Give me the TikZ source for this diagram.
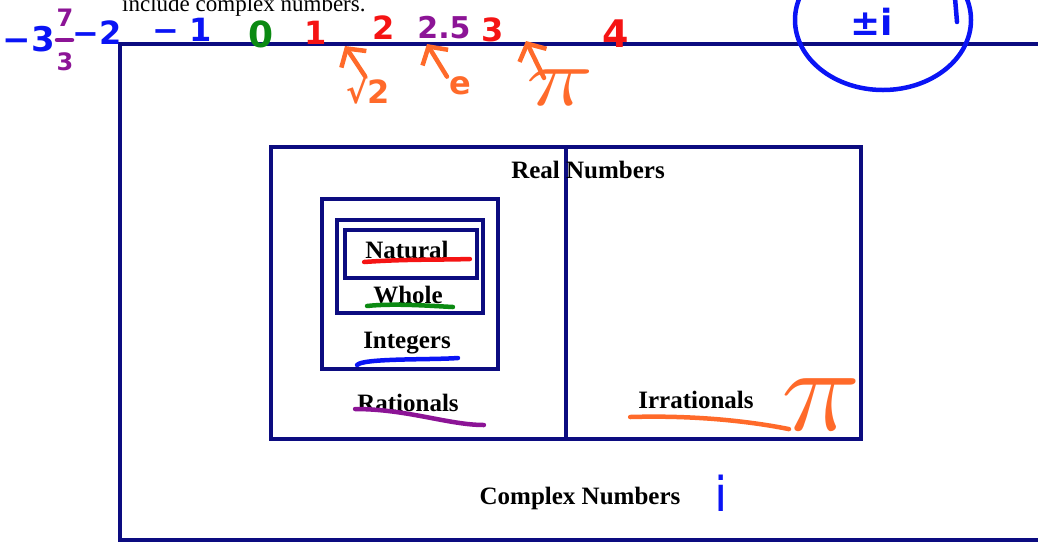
\documentclass[tikz,border=0pt]{standalone}
\usepackage{fontspec}
\setmainfont{Liberation Serif}
\newfontfamily\penfont{DejaVu Sans}
\usetikzlibrary{arrows.meta,positioning,calc}
\definecolor{setnavy}{HTML}{0C0C80}
\definecolor{penblue}{HTML}{0A14F5}
\definecolor{pengreen}{HTML}{0B8A12}
\definecolor{penred}{HTML}{F51414}
\definecolor{penpurple}{HTML}{8C1496}
\definecolor{penorange}{HTML}{FF6A2A}
\tikzset{
  setbox/.style={draw=setnavy,line width=3.8pt},
  setlabel/.style={font=\fontsize{25}{25}\selectfont\bfseries,anchor=base,inner sep=0pt},
  pen/.style={line width=4.5pt,line cap=round,line join=round},
  handnum/.style={font=\penfont\bfseries\fontsize{32}{32}\selectfont,inner sep=0pt},
  penarrow/.style={pen,penorange,-{Straight Barb[length=13pt,width=30pt]}}
}

\begin{document}
\begin{tikzpicture}[x=1pt,y=-1pt]
  \useasboundingbox (0,0) rectangle (1038,542);

  % Line of text cut off at the top
  \node[font=\fontsize{23}{23}\selectfont,anchor=base west,inner sep=0pt] (intro) at (122,11) {include complex numbers.};

  % Set boxes
  \draw[setbox] (120,44) rectangle (1080,540);
  \draw[setbox] (271,147) rectangle (861,439);
  \draw[setbox] (566,147) -- (566,439);
  \draw[setbox] (322,199) rectangle (498,369);
  \draw[setbox] (337,220) rectangle (483,313);
  \draw[setbox] (345,230) rectangle (477,278);

  % Set names
  \node[setlabel] (realset) at (588,178) {Real Numbers};
  \node[setlabel] (natural) at (407,258) {Natural};
  \node[setlabel] (whole) at (408,303) {Whole};
  \node[setlabel] (integers) at (407,348) {Integers};
  \node[setlabel] (rationals) at (408,411) {Rationals};
  \node[setlabel] (irrationals) at (696,408) {Irrationals};
  \node[setlabel] (complexset) at (580,504) {Complex Numbers};

  % Pen underlines
  \draw[pen,penred] ($(natural.base west)+(-1,4)$) .. controls ($(natural.base west)+(40,1)$) and ($(natural.base east)+(-10,2)$) .. ($(natural.base east)+(21,1)$);
  \draw[pen,pengreen] ($(whole.base west)+(-6,3)$) .. controls ($(whole.base west)+(20,0)$) and ($(whole.base east)+(-10,3)$) .. ($(whole.base east)+(10,4)$);
  \draw[pen,penblue] ($(integers.base west)+(-6,17)$) .. controls ($(integers.base west)+(0,10)$) and ($(integers.base east)+(-20,12)$) .. ($(integers.base east)+(7,10)$);
  \draw[pen,penpurple] ($(rationals.base west)+(-2,-2)$) .. controls ($(rationals.base west)+(50,-2)$) and ($(rationals.base east)+(-10,14)$) .. ($(rationals.base east)+(25,14)$);

  % Numbers on the line
  \node[handnum,penblue,font=\penfont\bfseries\fontsize{34}{34}\selectfont] (mthree) at (29,39) {−3};
  \node[handnum,penpurple,align=center,font=\penfont\bfseries\fontsize{24}{44}\selectfont] (mfrac) at (65,40) {7\\3};
  \draw[pen,penpurple] ($(mfrac.center)+(-8,0)$) -- ($(mfrac.center)+(7,0)$);
  \node[handnum,penblue] (mtwo) at (97,33) {−2};
  \node[handnum,penblue] (mone) at (182,30) {−\hspace{10pt}1};
  \node[handnum,pengreen,font=\penfont\bfseries\fontsize{36}{36}\selectfont] (zero) at (261,34) {0};
  \node[handnum,penred] (one) at (316,33) {1};
  \node[handnum,penred] (two) at (384,28) {2};
  \node[handnum,penpurple,font=\penfont\bfseries\fontsize{30}{30}\selectfont] (twohalf) at (444,28) {2.5};
  \node[handnum,penred] (three) at (493,30) {3};
  \node[handnum,penred,font=\penfont\bfseries\fontsize{38}{38}\selectfont] (four) at (616,34) {4};

  % Irrational points
  \coordinate (sqrttwotip) at (345,46);
  \coordinate (eultip) at (427,44);
  \coordinate (pitip) at (526,41);
  \node[handnum,penorange] (sqrttwo) at (368,90) {√2};
  \node[handnum,penorange] (eul) at (460,86) {e};
  \node[handnum,penorange,font=\fontsize{20}{20}\selectfont] (pilbl) at (560,88) {\scalebox{5.5}[4]{$\pi$}};
  \draw[penarrow] ($(sqrttwo.north)+(-3,0)$) -- (sqrttwotip);
  \draw[penarrow] ($(eul.north west)+(-2,0)$) -- (eultip);
  \draw[penarrow] ($(pilbl.north)+(-16,8)$) -- (pitip);

  % Imaginary unit
  \node[handnum,penblue,font=\penfont\bfseries\fontsize{36}{36}\selectfont] (plusminusi) at (872,22) {±i};
  \draw[pen,penblue] (883,20) ellipse [x radius=88, y radius=70];
  \draw[pen,penblue] (955,-2) -- (957,22);
  \node[handnum,penblue,font=\penfont\fontsize{48}{48}\selectfont] (unit) at (721,493) {i};

  % Pi next to the irrationals
  \node[handnum,penorange,font=\fontsize{20}{20}\selectfont] (bigpi) at (821,405) {\scalebox{6.5}[5.8]{$\pi$}};
  \draw[pen,penorange] ($(irrationals.base west)+(-8,9)$) .. controls ($(irrationals.base west)+(60,7)$) and ($(irrationals.base east)+(0,14)$) .. ($(bigpi.south west)+(8,-2)$);
\end{tikzpicture}
\end{document}
